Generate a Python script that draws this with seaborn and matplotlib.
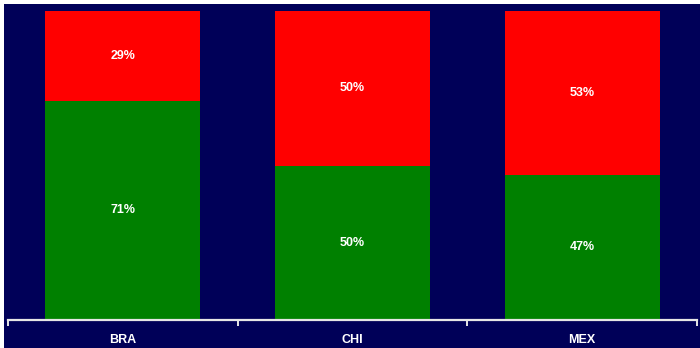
import matplotlib
matplotlib.use("Agg")
import matplotlib.pyplot as plt
from matplotlib.patches import Rectangle
import numpy as np
import seaborn as sns

countries = ["BRA", "CHI", "MEX"]
green_pct = [71, 50, 47]
red_pct = [29, 50, 53]

navy = "#000058"
sns.set_style("white")
plt.rcParams["font.family"] = ["Liberation Sans", "DejaVu Sans"]

fig = plt.figure(figsize=(7, 3.48), dpi=100, facecolor="white")
# navy background with thin white border at top and left
fig.patches.append(Rectangle((4 / 700, 0), 1, 344 / 348, transform=fig.transFigure,
                             facecolor=navy, edgecolor="none", zorder=-1))

ax = fig.add_axes([8 / 700, 28 / 348, 689 / 700, 309 / 348])
ax.set_facecolor(navy)

totals = [g + r for g, r in zip(green_pct, red_pct)]
sns.barplot(x=countries, y=totals, color="#ff0000", width=0.675, saturation=1, ax=ax)
sns.barplot(x=countries, y=green_pct, color="#008000", width=0.675, saturation=1, ax=ax)
for bar in ax.patches:
    bar.set_edgecolor("none")

for i, (g, r) in enumerate(zip(green_pct, red_pct)):
    ax.text(i, g / 2, f"{g}%", ha="center", va="center", color="white",
            fontsize=9, fontweight="bold")
    ax.text(i, g + r / 2, f"{r}%", ha="center", va="center", color="white",
            fontsize=9, fontweight="bold")

ax.set_xlim(-0.5, 2.5)
ax.set_ylim(0, 100)
ax.set_yticks([])
ax.set_xlabel("")
ax.set_ylabel("")
for s in ["top", "left", "right"]:
    ax.spines[s].set_visible(False)
ax.spines["bottom"].set_color("#e6e6e6")
ax.spines["bottom"].set_linewidth(1.6)

ax.tick_params(axis="x", which="major", length=0, pad=10, colors="white", labelsize=9)
for lbl in ax.get_xticklabels():
    lbl.set_fontweight("bold")
ax.set_xticks(np.arange(-0.5, 3, 1), minor=True)
ax.tick_params(axis="x", which="minor", bottom=True, length=4, width=1.4,
               color="#e6e6e6", direction="out")

fig.savefig("out.png", dpi=100, facecolor=fig.get_facecolor())
